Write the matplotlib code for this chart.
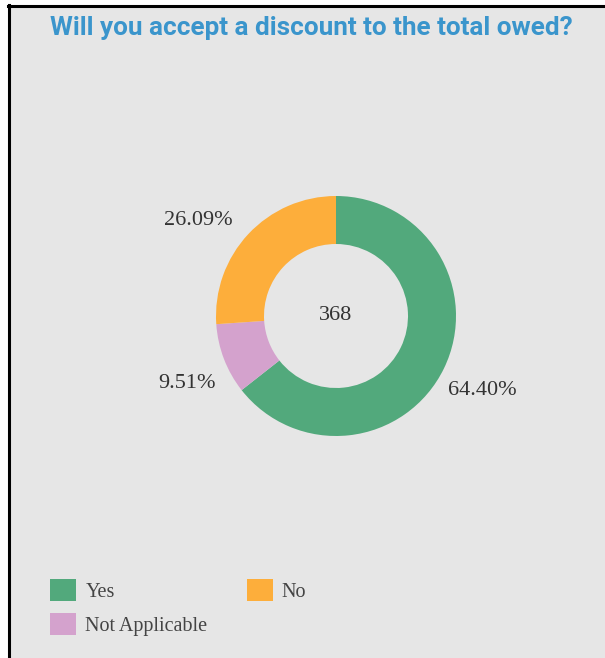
import numpy as np
import matplotlib
matplotlib.use('Agg')
import matplotlib.pyplot as plt
import matplotlib.patches as mpatches
from matplotlib.lines import Line2D

# survey answers (count of responses)
categories = ['Yes', 'Not Applicable', 'No']
counts = [237, 35, 96]
colours = ['#52a97c', '#d4a2cd', '#fdae3b']
legend_order = ['Yes', 'Not Applicable', 'No']
title = 'Will you accept a discount to the total owed?'

W, H = 605, 658
bg = '#e6e6e6'
txt = '#333333'

fig = plt.figure(figsize=(W/100, H/100), dpi=100, facecolor='white')

# grey panel with the black edge on the left and top
fig.patches.append(mpatches.Rectangle((10/W, 0), 1, 1-7/H, transform=fig.transFigure,
                                      facecolor=bg, edgecolor='none', zorder=-5))
fig.lines.append(Line2D([9/W, 9/W], [0, 1-5/H], transform=fig.transFigure, color='black', lw=2.2))
fig.lines.append(Line2D([8/W, 1], [1-6/H, 1-6/H], transform=fig.transFigure, color='black', lw=2.2))

fig.text(311/W, 1-28/H, title, ha='center', va='center', color='#3a95cc',
         fontsize=18.8, fontweight='bold', family='Roboto')

# donut
cx, cy, r = 336, 316, 120
pad = 170
ax = fig.add_axes([(cx-pad)/W, (H-cy-pad)/H, 2*pad/W, 2*pad/H])
ax.set_facecolor('none')
wedges, _ = ax.pie(counts, colors=colours, startangle=90, counterclock=False, radius=1,
                   wedgeprops=dict(width=0.4, edgecolor='none'))
ax.set_xlim(-pad/r, pad/r)
ax.set_ylim(-pad/r, pad/r)
ax.set_aspect('equal')
ax.axis('off')

# percentage labels sit outside each wedge, nudged a little to avoid the ring
nudge = [(-2, -3), (4, -8), (-18, -17)]
total = sum(counts)
for w, c, (dx, dy) in zip(wedges, counts, nudge):
    ang = np.deg2rad((w.theta1 + w.theta2) / 2)
    ax.annotate('{:.2f}%'.format(100*c/total), (1.37*np.cos(ang), 1.37*np.sin(ang)),
                xytext=(dx, dy), textcoords='offset pixels', ha='center', va='center',
                fontsize=16, family='Liberation Serif', color=txt)
ax.text(0, 0, str(total), ha='center', va='center', fontsize=16,
        family='Liberation Serif', color=txt)

handles = [mpatches.Patch(facecolor=colours[categories.index(k)], edgecolor='none', label=k)
           for k in legend_order]
leg = fig.legend(handles=handles, ncol=2, loc='upper left', bbox_to_anchor=(50/W, 1-579/H),
                 frameon=False, borderpad=0, borderaxespad=0, handlelength=1.3, handleheight=1.3,
                 handletextpad=0.45, labelspacing=0.55, columnspacing=1.95,
                 prop={'family': 'Liberation Serif', 'size': 14.5})
for t in leg.get_texts():
    t.set_color('#444444')

fig.savefig('out.png', dpi=100, facecolor=fig.get_facecolor())
